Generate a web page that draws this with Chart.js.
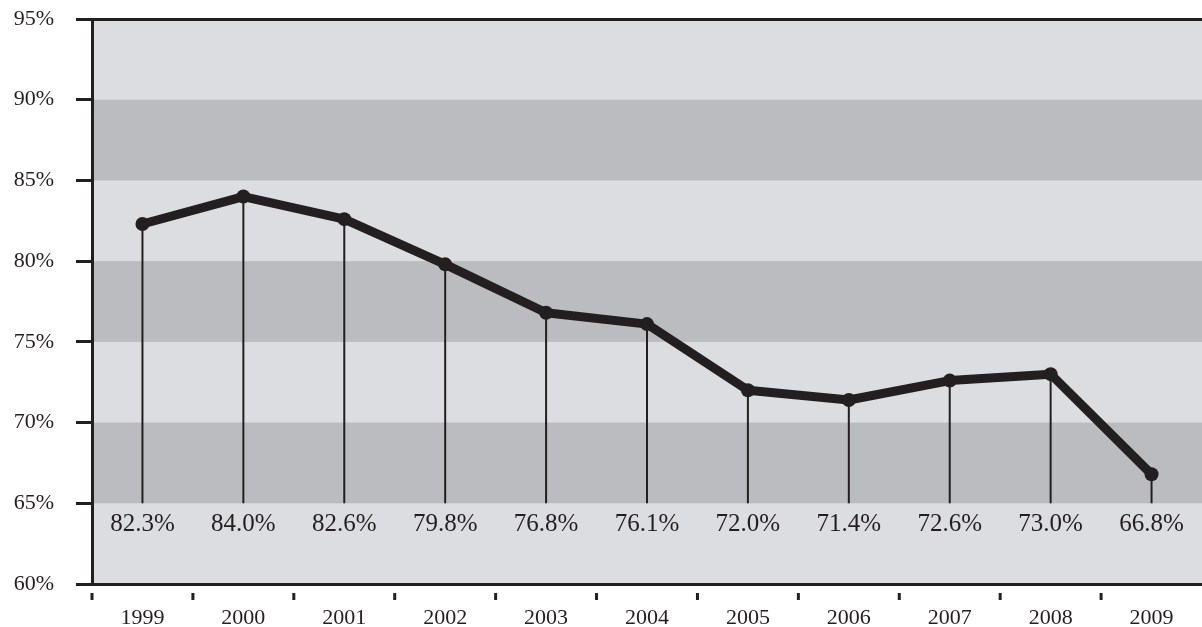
<!DOCTYPE html>
<html>
<head>
<meta charset="utf-8">
<script src="https://cdn.jsdelivr.net/npm/chart.js@4"></script>
<style>
  html, body { margin: 0; padding: 0; background: #fff; overflow: hidden; }
  #wrap { width: 1202px; height: 627px; }
</style>
</head>
<body>
<div id="wrap"><canvas id="rateChart"></canvas></div>
<script>
const years = ['1999', '2000', '2001', '2002', '2003', '2004', '2005', '2006', '2007', '2008', '2009'];
const rates = [82.3, 84.0, 82.6, 79.8, 76.8, 76.1, 72.0, 71.4, 72.6, 73.0, 66.8];
const yTicks = [60, 65, 70, 75, 80, 85, 90, 95];
const darkBands = [[65, 70], [75, 80], [85, 90]];

const INK = '#231f20';
const LIGHT = '#dcdde0';
const DARK = '#bbbcbf';
const SERIF = '"Liberation Serif", "DejaVu Serif", serif';

// striped plot background
const bandsPlugin = {
  id: 'bands',
  beforeDraw(chart) {
    const { ctx, chartArea: a, scales: { y } } = chart;
    ctx.save();
    ctx.fillStyle = LIGHT;
    ctx.fillRect(a.left, a.top, a.right - a.left, a.bottom - a.top);
    ctx.fillStyle = DARK;
    darkBands.forEach(([lo, hi]) => {
      const top = y.getPixelForValue(hi);
      const bot = y.getPixelForValue(lo);
      ctx.fillRect(a.left, top, a.right - a.left, bot - top);
    });
    ctx.restore();
  }
};

// drop lines to the 65% level, value labels, and detached x tick marks
const dropPlugin = {
  id: 'drops',
  beforeDatasetsDraw(chart) {
    const { ctx, scales: { y } } = chart;
    const base = y.getPixelForValue(65);
    const pts = chart.getDatasetMeta(0).data;
    ctx.save();
    ctx.strokeStyle = INK;
    ctx.lineWidth = 2;
    pts.forEach(p => {
      ctx.beginPath();
      ctx.moveTo(p.x, p.y);
      ctx.lineTo(p.x, base);
      ctx.stroke();
    });
    ctx.restore();
  },
  afterDatasetsDraw(chart) {
    const { ctx, chartArea: a, scales: { x, y } } = chart;
    const pts = chart.getDatasetMeta(0).data;
    ctx.save();
    ctx.fillStyle = INK;
    ctx.font = '25px ' + SERIF;
    ctx.textAlign = 'center';
    ctx.textBaseline = 'middle';
    const ly = y.getPixelForValue(63.7);
    pts.forEach((p, i) => {
      ctx.fillText(rates[i].toFixed(1) + '%', p.x, ly);
    });
    const half = (x.getPixelForValue(1) - x.getPixelForValue(0)) / 2;
    ctx.strokeStyle = INK;
    ctx.lineWidth = 3;
    years.forEach((_, i) => {
      const tx = x.getPixelForValue(i) - half;
      ctx.beginPath();
      ctx.moveTo(tx, a.bottom + 9);
      ctx.lineTo(tx, a.bottom + 16);
      ctx.stroke();
    });
    ctx.restore();
  }
};

new Chart(document.getElementById('rateChart'), {
  type: 'line',
  data: {
    labels: years,
    datasets: [{
      data: rates,
      borderColor: INK,
      backgroundColor: INK,
      borderWidth: 9,
      borderJoinStyle: 'round',
      pointRadius: 7,
      pointHoverRadius: 7,
      pointBackgroundColor: INK,
      pointBorderWidth: 0,
      tension: 0
    }]
  },
  options: {
    responsive: true,
    maintainAspectRatio: false,
    animation: false,
    layout: { autoPadding: false, padding: { top: 19, right: 0, left: 0, bottom: 0 } },
    plugins: {
      legend: { display: false },
      tooltip: { enabled: false }
    },
    scales: {
      x: {
        offset: true,
        grid: { display: false },
        border: { display: false },
        afterFit(s) { s.height = 43; },
        ticks: {
          color: INK,
          padding: 13,
          maxRotation: 0,
          font: { family: SERIF, size: 22 }
        }
      },
      y: {
        min: 60,
        max: 95,
        afterFit(s) {
          s.width = 92;
          s.paddingTop = 0;
          s.paddingBottom = 0;
        },
        afterBuildTicks(s) { s.ticks = yTicks.map(v => ({ value: v })); },
        border: { display: true, color: INK, width: 3 },
        grid: {
          drawOnChartArea: true,
          color: c => (c.tick && (c.tick.value === 95 || c.tick.value === 60)) ? INK : 'rgba(0,0,0,0)',
          tickColor: INK,
          lineWidth: 3,
          tickLength: 16
        },
        ticks: {
          color: INK,
          padding: 22,
          font: { family: SERIF, size: 22 },
          callback: v => v + '%'
        }
      }
    }
  },
  plugins: [bandsPlugin, dropPlugin]
});
</script>
</body>
</html>
